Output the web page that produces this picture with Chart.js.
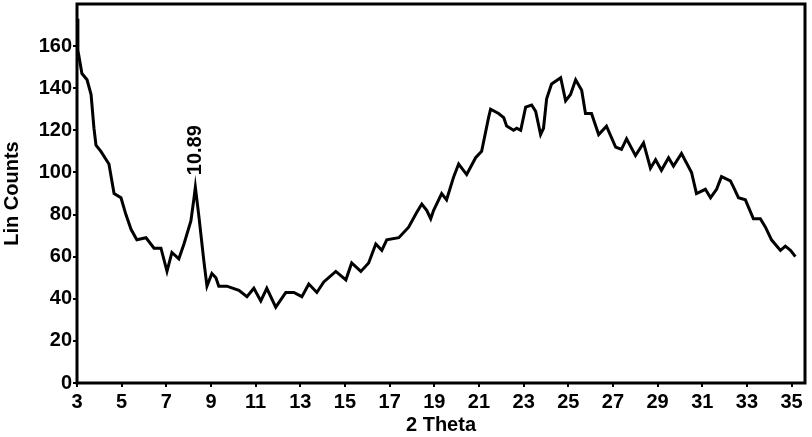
<!DOCTYPE html>
<html>
<head>
<meta charset="utf-8">
<script src="https://cdn.jsdelivr.net/npm/chart.js@4.4.1/dist/chart.umd.min.js"></script>
<style>
  html, body { margin: 0; padding: 0; background: #fff; }
  #wrap { width: 812px; height: 437px; }
</style>
</head>
<body>
<div id="wrap"><canvas id="xrd"></canvas></div>
<script>
// 2 theta positions (deg) and intensity
const thetaValues = [
  3.00, 3.04, 3.22, 3.45, 3.63, 3.76, 3.85, 4.07, 4.43, 4.66, 4.97, 5.19, 5.42, 5.68,
  6.09, 6.45, 6.76, 7.03, 7.25, 7.56, 7.79, 8.10, 8.23, 8.30, 8.46, 8.68, 8.82, 9.04,
  9.22, 9.35, 9.71, 10.25, 10.61, 10.92, 11.23, 11.50, 11.90, 12.35, 12.71, 13.07, 13.38, 13.74,
  14.05, 14.59, 15.04, 15.30, 15.71, 16.06, 16.38, 16.65, 16.87, 17.41, 17.85, 18.21, 18.44, 18.66,
  18.84, 18.97, 19.33, 19.55, 19.87, 20.09, 20.45, 20.85, 21.12, 21.43, 21.52, 21.88, 22.11, 22.24,
  22.55, 22.69, 22.87, 23.09, 23.36, 23.54, 23.76, 23.89, 24.03, 24.25, 24.66, 24.88, 25.10, 25.33,
  25.60, 25.77, 26.04, 26.36, 26.71, 27.12, 27.38, 27.61, 28.01, 28.37, 28.68, 28.91, 29.17, 29.49,
  29.71, 30.07, 30.52, 30.74, 31.14, 31.37, 31.64, 31.86, 32.26, 32.40, 32.62, 32.93, 33.29, 33.60,
  33.83, 34.10, 34.50, 34.72, 34.95, 35.17
];
const linCounts = [
  173, 158, 147, 144, 137, 121, 113, 110, 104, 90, 88, 80, 73, 68,
  69, 64, 64, 53, 62, 59, 66, 77, 87, 93, 79, 58, 46, 52,
  50, 46, 46, 44, 41, 45, 39, 45, 36, 43, 43, 41, 47, 43,
  48, 53, 49, 57, 53, 57, 66, 63, 68, 69, 74, 81, 85, 82,
  78, 82, 90, 87, 98, 104, 99, 107, 110, 126, 130, 128, 126, 122,
  120, 121, 120, 131, 132, 129, 118, 121, 135, 142, 145, 134, 137, 144,
  139, 128, 128, 118, 122, 112, 111, 116, 108, 114, 102, 106, 101, 107,
  103, 109, 100, 90, 92, 88, 92, 98, 96, 93, 88, 87, 78, 78,
  74, 68, 63, 65, 63, 60
];
const xTickLabels = [3, 5, 7, 9, 11, 13, 15, 17, 19, 21, 23, 25, 27, 29, 31, 33, 35];
const yTickLabels = [0, 20, 40, 60, 80, 100, 120, 140, 160];
const peakLabel = "10.89";
const peakTheta = 8.30;
const peakCount = 93;

const FONT = "'Liberation Sans', Arial, sans-serif";

const points = thetaValues.map((t, i) => ({ x: t, y: linCounts[i] }));

// frame round the plot + the d-spacing label over the peak
const framePlugin = {
  id: "frame",
  afterDatasetsDraw(chart) {
    const { ctx, chartArea: a, scales } = chart;
    ctx.save();
    ctx.strokeStyle = "#000";
    ctx.lineWidth = 3;
    ctx.strokeRect(a.left, a.top, a.right - a.left, a.bottom - a.top);

    const px = scales.x.getPixelForValue(peakTheta);
    const py = scales.y.getPixelForValue(peakCount);
    ctx.translate(px, py - 12);
    ctx.rotate(-Math.PI / 2);
    ctx.fillStyle = "#000";
    ctx.font = "bold 20px " + FONT;
    ctx.textAlign = "left";
    ctx.textBaseline = "middle";
    ctx.fillText(peakLabel, 0, 0);
    ctx.restore();
  }
};

new Chart(document.getElementById("xrd"), {
  type: "line",
  data: {
    datasets: [{
      data: points,
      borderColor: "#000",
      borderWidth: 3,
      pointRadius: 0,
      tension: 0,
      fill: false
    }]
  },
  options: {
    responsive: true,
    maintainAspectRatio: false,
    animation: false,
    events: [],
    layout: { padding: { top: 4, right: 7, left: 0, bottom: 0 } },
    plugins: { legend: { display: false }, tooltip: { enabled: false } },
    scales: {
      x: {
        type: "linear",
        min: 3,
        max: 35.6,
        afterBuildTicks(scale) {
          scale.ticks = xTickLabels.map(v => ({ value: v }));
        },
        afterFit(scale) { scale.height = 54; },
        grid: { drawOnChartArea: false, tickLength: 4, color: "#000", lineWidth: 2 },
        border: { display: false },
        ticks: {
          color: "#000",
          padding: 3,
          maxRotation: 0,
          autoSkip: false,
          font: { family: FONT, size: 20, weight: "bold" }
        },
        title: {
          display: true,
          text: "2 Theta",
          color: "#000",
          padding: { top: -7, bottom: 0 },
          font: { family: FONT, size: 20, weight: "bold" }
        }
      },
      y: {
        min: 0,
        max: 180,
        afterBuildTicks(scale) {
          scale.ticks = yTickLabels.map(v => ({ value: v }));
        },
        afterFit(scale) {
          scale.width = 77;
          scale.paddingTop = 0;
          scale.paddingBottom = 0;
        },
        grid: { drawOnChartArea: false, tickLength: 4, color: "#000", lineWidth: 2 },
        border: { display: false },
        ticks: {
          color: "#000",
          padding: 1,
          font: { family: FONT, size: 20, weight: "bold" }
        },
        title: {
          display: true,
          text: "Lin Counts",
          color: "#000",
          padding: { top: 0, bottom: 0 },
          font: { family: FONT, size: 20, weight: "bold" }
        }
      }
    }
  },
  plugins: [framePlugin]
});
</script>
</body>
</html>
